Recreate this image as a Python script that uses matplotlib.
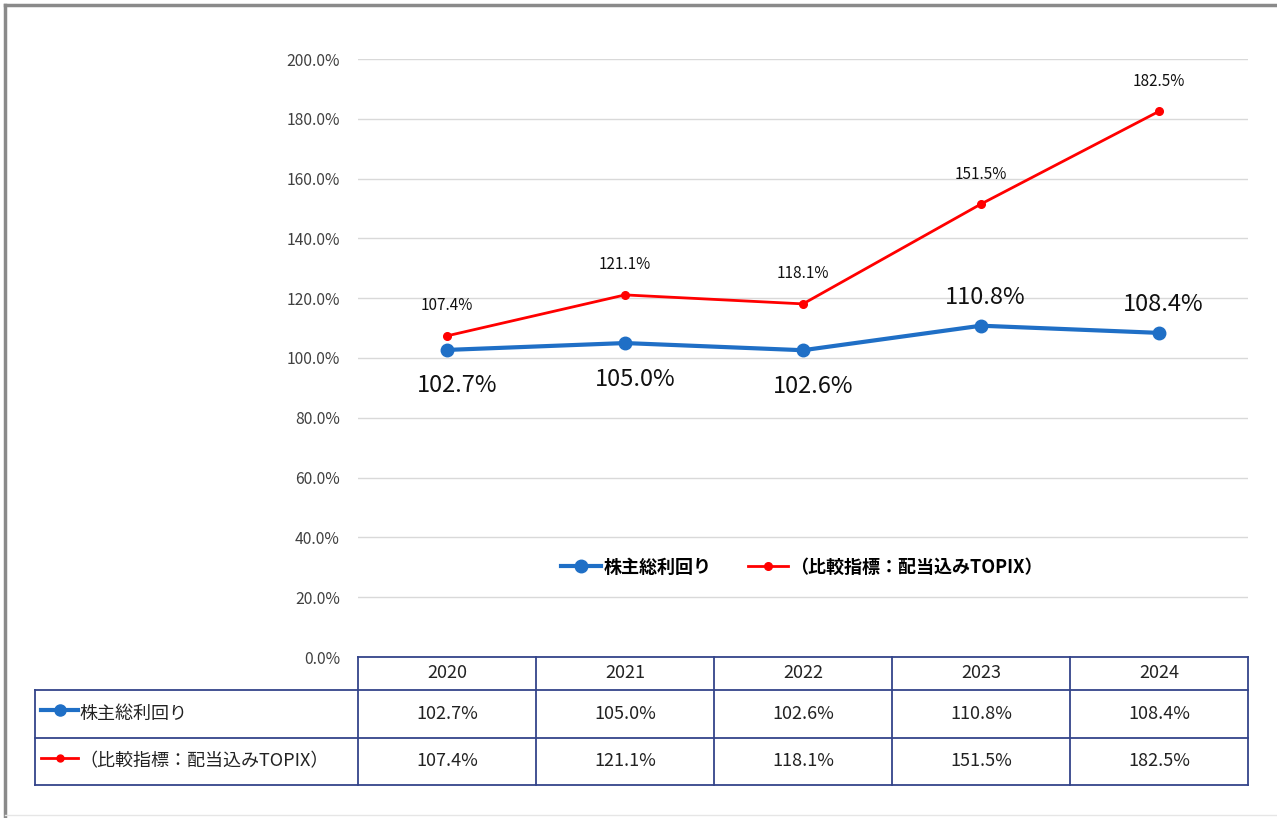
import matplotlib
matplotlib.use("Agg")
import matplotlib.pyplot as plt
from matplotlib.lines import Line2D

plt.rcParams["font.family"] = ["Noto Sans CJK JP", "DejaVu Sans"]

YEARS = ["2020", "2021", "2022", "2023", "2024"]
TSR = [102.7, 105.0, 102.6, 110.8, 108.4]
TOPIX = [107.4, 121.1, 118.1, 151.5, 182.5]
NAME_TSR = "株主総利回り"
NAME_TOPIX = "（比較指標：配当込みTOPIX）"
Y_TICKS = [0, 20, 40, 60, 80, 100, 120, 140, 160, 180, 200]

BLUE = "#1f6fc6"
RED = "#ff0000"
NAVY = "#34448a"
TXT = "#222222"

W, H = 1277, 818
fig = plt.figure(figsize=(W / 100, H / 100), dpi=100)

# pixel layout of plot area
x0, x1, ytop, ybot = 358, 1248, 59, 657
ax = fig.add_axes([x0 / W, 1 - ybot / H, (x1 - x0) / W, (ybot - ytop) / H])
ax.set_xlim(-0.5, len(YEARS) - 0.5)
ax.set_ylim(0, 200)
ax.set_yticks(Y_TICKS)
ax.set_yticklabels([f"{v:.1f}%" for v in Y_TICKS], fontsize=11.3, color="#404040")
ax.tick_params(axis="y", length=0, pad=13)
ax.set_xticks([])
for s in ax.spines.values():
    s.set_visible(False)
ax.grid(axis="y", color="#d9d9d9", linewidth=1)
ax.set_axisbelow(True)

xs = list(range(len(YEARS)))
ax.plot(xs, TSR, color=BLUE, lw=3, marker="o", ms=9, label=NAME_TSR, zorder=3)
ax.plot(xs, TOPIX, color=RED, lw=2, marker="o", ms=5.5, label=NAME_TOPIX, zorder=3)

for i, v in enumerate(TSR):
    dx, dy = (10, -36) if i < 3 else (4, 28)
    ax.annotate(f"{v:.1f}%", (i, v), xytext=(dx, dy), textcoords="offset pixels",
                ha="center", va="center", fontsize=17, color="#111111")
for i, v in enumerate(TOPIX):
    ax.annotate(f"{v:.1f}%", (i, v), xytext=(0, 30), textcoords="offset pixels",
                ha="center", va="center", fontsize=11, color="#111111")

leg = fig.legend(loc="center", bbox_to_anchor=(802 / W, 1 - 567 / H), ncol=2,
                 frameon=False, fontsize=13, handlelength=2.2, columnspacing=2.0,
                 handletextpad=0.15)
for t in leg.get_texts():
    t.set_fontweight("bold")

# overlay in pixel coordinates for the table and frame
ov = fig.add_axes([0, 0, 1, 1], zorder=5)
ov.set_xlim(0, W)
ov.set_ylim(H, 0)
ov.axis("off")
ov.patch.set_alpha(0)

col_w = (x1 - x0) / len(YEARS)
r0, r1, r2, r3 = 657, 690, 738, 785
lab_x = 35
lc = dict(color=NAVY, lw=1.3)
ov.plot([x0, x1], [r0, r0], **lc)
ov.plot([lab_x, x1], [r1, r1], **lc)
ov.plot([lab_x, x1], [r2, r2], **lc)
ov.plot([lab_x, x1], [r3, r3], **lc)
ov.plot([lab_x, lab_x], [r1, r3], **lc)
for k in range(len(YEARS) + 1):
    xx = x0 + k * col_w
    ov.plot([xx, xx], [r0, r3], **lc)

for k, yr in enumerate(YEARS):
    cx = x0 + (k + 0.5) * col_w
    ov.text(cx, (r0 + r1) / 2, yr, ha="center", va="center", fontsize=13, color=TXT)
    ov.text(cx, (r1 + r2) / 2, f"{TSR[k]:.1f}%", ha="center", va="center", fontsize=13, color=TXT)
    ov.text(cx, (r2 + r3) / 2, f"{TOPIX[k]:.1f}%", ha="center", va="center", fontsize=13, color=TXT)

# row labels with line keys
ym1 = (r1 + r2) / 2
ym2 = (r2 + r3) / 2
ov.add_line(Line2D([41, 78], [ym1 - 4, ym1 - 4], color=BLUE, lw=3))
ov.plot([59.5], [ym1 - 4], marker="o", ms=8, color=BLUE)
ov.text(79, ym1, NAME_TSR, ha="left", va="center", fontsize=13, color=TXT)
ov.add_line(Line2D([41, 78], [ym2 - 4, ym2 - 4], color=RED, lw=2))
ov.plot([59.5], [ym2 - 4], marker="o", ms=5, color=RED)
ov.text(79, ym2, NAME_TOPIX, ha="left", va="center", fontsize=13, color=TXT)

# outer frame (left and top edges)
ov.plot([5, 5], [5, H], color="#8a8a8a", lw=2.5)
ov.plot([5, W], [5, 5], color="#8a8a8a", lw=2.5)
ov.plot([5, W], [H - 3, H - 3], color="#e6e6e6", lw=1)

fig.savefig("out.png", dpi=100)
